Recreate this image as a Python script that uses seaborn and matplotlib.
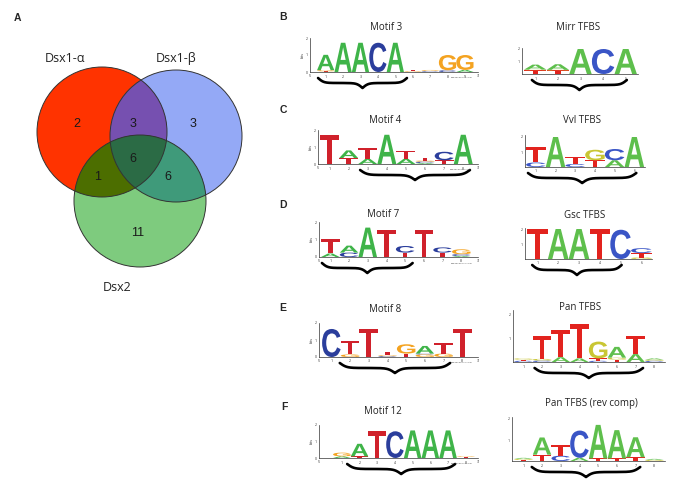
import numpy as np
import matplotlib
matplotlib.use("Agg")
import matplotlib.pyplot as plt
import seaborn as sns
from matplotlib.patches import Circle, Polygon, PathPatch
from matplotlib.textpath import TextPath
from matplotlib.font_manager import FontProperties
from matplotlib.transforms import Affine2D, blended_transform_factory

W, H = 685, 490

# ---- Venn data (panel A)
venn_names = ['Dsx1-α', 'Dsx1-β', 'Dsx2']
venn_regions = ['100', '010', '001', '110', '101', '011', '111']
venn_counts = [2, 3, 11, 3, 1, 6, 6]

# ---- logo data (panels B-F), each column listed bottom -> top as (letter, bits)
motif3 = [[('T', 0.04), ('G', 0.07), ('A', 0.9)], [('A', 1.72)], [('A', 1.72)], [('C', 1.72)],
          [('A', 1.72)], [('G', 0.04), ('T', 0.08)], [('C', 0.04), ('T', 0.03), ('G', 0.05)],
          [('C', 0.1), ('G', 0.9)], [('A', 0.12), ('G', 0.88)]]
mirr = [[('T', 0.3), ('G', 0.05), ('A', 0.4)], [('T', 0.28), ('G', 0.05), ('A', 0.45)],
        [('A', 2.0)], [('C', 2.0)], [('A', 2.0)]]
motif4 = [[('T', 1.7)], [('T', 0.35), ('A', 0.45)], [('A', 0.3), ('T', 0.65)], [('A', 1.72)],
          [('A', 0.3), ('T', 0.45)], [('A', 0.06), ('C', 0.08), ('G', 0.06), ('T', 0.18)],
          [('T', 0.22), ('C', 0.5)], [('A', 1.72)]]
vvl = [[('C', 0.3), ('T', 1.0)], [('A', 2.0)], [('C', 0.2), ('T', 0.45)], [('T', 0.45), ('G', 0.7)],
       [('A', 0.45), ('C', 0.75)], [('A', 2.0)]]
motif7 = [[('A', 0.2), ('T', 0.8)], [('C', 0.25), ('A', 0.4)], [('A', 1.68)], [('T', 1.55)],
          [('T', 0.25), ('C', 0.38)], [('T', 1.55)], [('T', 0.25), ('C', 0.3)],
          [('A', 0.06), ('C', 0.1), ('G', 0.28)]]
gsc = [[('T', 2.0)], [('A', 2.0)], [('A', 2.0)], [('T', 2.0)], [('C', 1.95)],
       [('G', 0.1), ('T', 0.3), ('C', 0.32)]]
motif8 = [[('C', 1.65)], [('G', 0.15), ('T', 0.8)], [('T', 1.65)], [('C', 0.05), ('G', 0.05), ('T', 0.2)],
          [('T', 0.2), ('G', 0.55)], [('G', 0.15), ('C', 0.05), ('A', 0.45)], [('G', 0.2), ('T', 0.6)],
          [('T', 1.65)]]
pan = [[('C', 0.05), ('T', 0.05), ('G', 0.05)], [('C', 0.06), ('G', 0.07), ('T', 0.95)],
       [('A', 0.2), ('T', 1.13)], [('A', 0.15), ('T', 1.45)], [('C', 0.05), ('T', 0.1), ('G', 0.7)],
       [('T', 0.1), ('G', 0.08), ('A', 0.45)], [('A', 0.33), ('T', 0.75)],
       [('C', 0.05), ('G', 0.05), ('A', 0.05)]]
motif12 = [[('A', 0.1), ('G', 0.22)], [('T', 0.1), ('A', 0.75)], [('T', 1.6)], [('C', 1.6)],
           [('A', 1.65)], [('A', 1.65)], [('A', 1.65)], [('T', 0.08), ('G', 0.04)]]
pan_rc = [[('T', 0.05), ('G', 0.05), ('A', 0.05)], [('T', 0.3), ('A', 0.82)], [('C', 0.25), ('T', 0.5)],
          [('A', 0.15), ('C', 1.3)], [('T', 0.12), ('A', 1.6)], [('T', 0.12), ('A', 1.35)],
          [('T', 0.18), ('A', 0.95)], [('G', 0.05), ('A', 0.05)]]

weblogo_colors = {'A': '#3fb449', 'C': '#2b3e9c', 'G': '#f4a321', 'T': '#d0212b'}
tfbs_colors = {'A': '#5ebf4c', 'C': '#3a55c6', 'G': '#c9c634', 'T': '#e2231e'}

sns.set_style('white')
plt.rcParams['font.family'] = ['Open Sans', 'DejaVu Sans']

fig = plt.figure(figsize=(W / 100, H / 100), dpi=100)


def px_axes(left, top, right, bottom):
    return fig.add_axes([left / W, 1 - bottom / H, (right - left) / W, (bottom - top) / H])


def fig_text(x, y, s, **kw):
    fig.text(x / W, 1 - y / H, s, ha='center', va='center', **kw)


# ---------------- panel A: Venn
ax = px_axes(0, 0, 280, 300)
ax.set_xlim(0, 280)
ax.set_ylim(300, 0)
ax.axis('off')

centers = [(102, 132), (176, 136), (140, 201)]
radii = [65, 66, 66]
region_colors = {'100': '#ff3300', '010': '#94a9f6', '001': '#7ecb7e', '110': '#7650b0',
                 '101': '#4c6e00', '011': '#3f9a7a', '111': '#2b6b45'}
label_pos = {'100': (77, 124), '010': (193, 124), '001': (138, 233), '110': (133, 124),
             '101': (98, 177), '011': (168, 177), '111': (133, 159)}


def disk_intersection(idx):
    pts = []
    for i in idx:
        th = np.linspace(0, 2 * np.pi, 720, endpoint=False)
        p = np.c_[centers[i][0] + radii[i] * np.cos(th), centers[i][1] + radii[i] * np.sin(th)]
        keep = np.ones(len(p), bool)
        for j in idx:
            if j != i:
                keep &= np.hypot(p[:, 0] - centers[j][0], p[:, 1] - centers[j][1]) <= radii[j] + 1e-6
        pts.append(p[keep])
    pts = np.vstack(pts)
    c = pts.mean(axis=0)
    order = np.argsort(np.arctan2(pts[:, 1] - c[1], pts[:, 0] - c[0]))
    return pts[order]


for code in venn_regions:
    idx = [k for k, b in enumerate(code) if b == '1']
    if len(idx) == 1:
        ax.add_patch(Circle(centers[idx[0]], radii[idx[0]], fc=region_colors[code], ec='none'))
for code in venn_regions:
    idx = [k for k, b in enumerate(code) if b == '1']
    if len(idx) == 2:
        ax.add_patch(Polygon(disk_intersection(idx), fc=region_colors[code], ec='none'))
for code in venn_regions:
    idx = [k for k, b in enumerate(code) if b == '1']
    if len(idx) == 3:
        ax.add_patch(Polygon(disk_intersection(idx), fc=region_colors[code], ec='none'))
for c, r in zip(centers, radii):
    ax.add_patch(Circle(c, r, fc='none', ec='#333333', lw=0.7))

for code, n in zip(venn_regions, venn_counts):
    ax.text(*label_pos[code], str(n), ha='center', va='center', fontsize=9,
            family='Liberation Sans', color='#1a1a1a')
for name, xy in zip(venn_names, [(65, 58), (176, 58), (117, 287)]):
    ax.text(*xy, name, ha='center', va='center', fontsize=9, color='#222222')
ax.text(17, 18, 'A', ha='center', va='center', fontsize=7.5, weight='bold', family='Liberation Sans')

# ---------------- panels B-F: sequence logos
LETTER_FONT = FontProperties(family='Liberation Sans', weight='bold')
glyph_cache = {}


def draw_letter(ax, letter, x, y0, h, color, wfrac=0.99):
    if letter not in glyph_cache:
        p = TextPath((0, 0), letter, size=1, prop=LETTER_FONT)
        glyph_cache[letter] = (p, p.get_extents())
    p, ext = glyph_cache[letter]
    tr = (Affine2D().translate(-ext.x0, -ext.y0)
          .scale(wfrac / ext.width, h / ext.height)
          .translate(x - wfrac / 2, y0))
    ax.add_patch(PathPatch(tr.transform_path(p), fc=color, ec='none', lw=0))


def draw_brace(ax, x0, x1, h_px, top_px=6, depth_px=10):
    t = np.linspace(0, 1, 150)
    half = 1 / (1 + np.exp(-16 * t)) + 1 / (1 + np.exp(-16 * (t - 1))) - 0.5
    yb = np.concatenate([half, half[-2::-1]])
    xb = np.linspace(x0, x1, len(yb))
    ax.plot(xb, -(top_px + yb * depth_px) / h_px, color='k', lw=1.9, clip_on=False,
            solid_capstyle='round', transform=blended_transform_factory(ax.transData, ax.transAxes))


def draw_logo(cols, L, F, w, R, base, unit, ymax, brace, weblogo):
    top = base - ymax * unit
    ax = px_axes(L, top, R, base)
    lo = 0.5 - (F - L) / w
    ax.set_xlim(lo, lo + (R - L) / w)
    ax.set_ylim(0, ymax)
    palette = weblogo_colors if weblogo else tfbs_colors
    for i, stack in enumerate(cols, start=1):
        y = 0
        for letter, h in stack:
            draw_letter(ax, letter, i, y, h, palette[letter])
            y += h
    sns.despine(ax=ax)
    for s in ['left', 'bottom']:
        ax.spines[s].set_linewidth(0.5)
        ax.spines[s].set_color('#333333')
    ax.set_xticks(range(1, len(cols) + 1))
    ax.set_xticklabels([str(i) for i in range(1, len(cols) + 1)])
    if weblogo:
        ax.set_yticks([0, 1, 2])
        ax.set_ylabel('bits', fontsize=2.5, labelpad=0.5)
        ax.text(lo, -0.12, "5'", fontsize=2.5, ha='center', va='top')
        ax.text(lo + (R - L) / w, -0.12, "3'", fontsize=2.5, ha='center', va='top')
        ax.text(lo + (R - L) / w - 0.3, -0.32, 'weblogo.berkeley.edu', fontsize=1.5,
                ha='right', va='top', color='#555555')
    else:
        ax.set_yticks([1, 2])
    ax.tick_params(labelsize=2.5, length=1.2, width=0.4, pad=0.6, colors='#333333')
    ax.patch.set_alpha(0)
    draw_brace(ax, brace[0], brace[1], base - top)
    return ax


draw_logo(motif3, 310, 317, 17.4, 478, 72, 17, 2, (0.56, 5.67), True)
draw_logo(mirr, 522, 524, 22.6, 638, 74, 12.5, 2.1, (0.85, 5.05), False)
draw_logo(motif4, 318, 320, 19.1, 478, 164, 17, 2, (2.6, 8.35), True)
draw_logo(vvl, 525, 526, 19.7, 645, 167, 15, 2.1, (0.6, 6.1), False)
draw_logo(motif7, 319, 321, 18.7, 478, 257, 17.5, 2, (0.55, 5.4), True)
draw_logo(gsc, 525, 527, 20.8, 652, 259, 15, 2.1, (0.75, 5.05), False)
draw_logo(motif8, 319, 322, 18.7, 478, 357, 17, 2, (1.45, 7.35), True)
draw_logo(pan, 513, 514, 18.7, 665, 362, 24, 2.15, (1.6, 7.4), False)
draw_logo(motif12, 319, 333, 17.7, 478, 458, 16.7, 2, (1.3, 7.4), True)
draw_logo(pan_rc, 512, 514, 18.7, 665, 461, 21, 2.1, (1.45, 7.25), False)

titles = [('Motif 3', 386, 27), ('Mirr TFBS', 578, 27), ('Motif 4', 385, 120), ('Vvl TFBS', 582, 120),
          ('Motif 7', 383, 214), ('Gsc TFBS', 585, 215), ('Motif 8', 385, 309), ('Pan TFBS', 580, 307),
          ('Motif 12', 383, 411), ('Pan TFBS (rev comp)', 591, 403)]
for s, x, y in titles:
    fig_text(x, y, s, fontsize=7, color='#222222')
for s, x, y in [('B', 283, 17), ('C', 283, 110), ('D', 283, 205), ('E', 283, 308), ('F', 284, 407)]:
    fig_text(x, y, s, fontsize=7.5, weight='bold', family='Liberation Sans')

fig.savefig('out.png', dpi=100)
